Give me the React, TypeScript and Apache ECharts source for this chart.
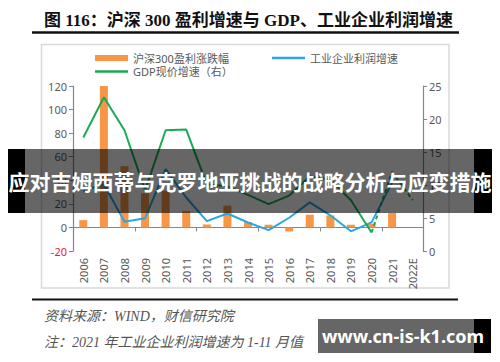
import React, { useEffect, useRef } from "react";
import * as echarts from "echarts";

const categories = ["2006", "2007", "2008", "2009", "2010", "2011", "2012", "2013", "2014", "2015", "2016", "2017", "2018", "2019", "2020", "2021", "2022E"];
const csi300EarningsGrowth = [6.2, 120, 52, 29, 31, 14, 2.5, 18.5, 4.5, 2.3, -3.4, 10.8, 10.2, 2.3, 3.1, 12.2, null];
const industrialProfitGrowth = [31, 36.7, 4.9, 7.8, 49.4, 25.4, 5.3, 11.8, 4.2, -2.3, 8.2, 21.3, 10.3, -3.3, 4.3, 38, null];
const gdpNominalGrowth = [17.2, 23.3, 18.3, 9.2, 18.3, 18.4, 10.1, 9.8, 8.5, 7.1, 8.4, 11.3, 10.8, 7.7, 2.8, 12.0, 7.7];
const dashedFrom = "2020";

const seriesNames = ["沪深300盈利涨跌幅", "工业企业利润增速", "GDP现价增速（右）"];
const titleText = "图 116：沪深 300 盈利增速与 GDP、工业企业利润增速";
const sourceText = "资料来源：WIND，财信研究院";
const noteText = "注：2021 年工业企业利润增速为 1-11 月值";
const bannerText = "应对吉姆西蒂与克罗地亚挑战的战略分析与应变措施";
const watermarkText = "www.cn-is-k1.com";

const ORANGE = "#F79646";
const BLUE = "#29A8E0";
const GREEN = "#1AAA55";
const AXIS = "#868686";
const LABEL = "#595959";
const FONT = "'Noto Sans', 'Noto Sans CJK SC', sans-serif";

export default function App() {
  const ref = useRef<HTMLDivElement>(null);
  useEffect(() => {
    if (!ref.current) return;
    const chart = echarts.init(ref.current, null, { renderer: "svg" });
    const cut = categories.indexOf(dashedFrom);
    const gdpSolid = gdpNominalGrowth.map((v, i) => (i <= cut ? v : null));
    const gdpDashed = gdpNominalGrowth.map((v, i) => (i >= cut ? v : null));
    const txt = (o: any) => ({ type: "text", ...o });
    const legendText = { color: LABEL, fontSize: 11, fontFamily: FONT };
    chart.setOption({
      animation: false,
      backgroundColor: "#ffffff",
      textStyle: { fontFamily: FONT },
      grid: { left: 73, right: 77, top: 86, bottom: 111, containLabel: false },
      legend: [
        { data: [seriesNames[0]], left: 95, top: 52.5, padding: 0, itemWidth: 33, itemHeight: 6, icon: "rect", textStyle: legendText },
        { data: [seriesNames[1]], left: 272, top: 52.5, padding: 0, itemWidth: 33, itemHeight: 2.5, icon: "rect", itemStyle: { color: BLUE }, textStyle: legendText },
        { data: [seriesNames[2]], left: 95, top: 66, padding: 0, itemWidth: 33, itemHeight: 2.5, icon: "rect", itemStyle: { color: GREEN }, textStyle: legendText },
      ],
      xAxis: [
        {
          type: "category",
          data: categories,
          position: "bottom",
          axisLine: { show: true, onZero: true, onZeroAxisIndex: 0, lineStyle: { color: AXIS, width: 1.2 } },
          axisTick: { show: true, length: 4, lineStyle: { color: AXIS } },
          axisLabel: { show: false },
          splitLine: { show: false },
        },
        {
          type: "category",
          data: categories,
          position: "bottom",
          axisLine: { show: false, onZero: false },
          axisTick: { show: false },
          axisLabel: { show: true, rotate: 90, margin: 7, fontSize: 11, color: LABEL, fontFamily: FONT },
          splitLine: { show: false },
        },
      ],
      yAxis: [
        {
          type: "value",
          position: "left",
          min: -20,
          max: 120,
          interval: 20,
          axisLine: { show: true, lineStyle: { color: AXIS, width: 1.2 } },
          axisTick: { show: true, length: 4, lineStyle: { color: AXIS } },
          axisLabel: { fontSize: 11, margin: 6, color: (v: any) => (Number(v) < 0 ? "#E8232A" : LABEL) },
          splitLine: { show: false },
        },
        {
          type: "value",
          position: "right",
          min: 0,
          max: 25,
          interval: 5,
          axisLine: { show: true, lineStyle: { color: AXIS, width: 1.2 } },
          axisTick: { show: true, length: 4, lineStyle: { color: AXIS } },
          axisLabel: { fontSize: 11, margin: 6, color: LABEL },
          splitLine: { show: false },
        },
      ],
      series: [
        { name: seriesNames[0], type: "bar", xAxisIndex: 0, yAxisIndex: 0, data: csi300EarningsGrowth, barWidth: 8, itemStyle: { color: ORANGE }, z: 2 },
        { name: seriesNames[1], type: "line", xAxisIndex: 0, yAxisIndex: 0, data: industrialProfitGrowth, symbol: "none", lineStyle: { color: BLUE, width: 2 }, itemStyle: { color: BLUE }, z: 3 },
        { name: seriesNames[2], type: "line", xAxisIndex: 0, yAxisIndex: 1, data: gdpSolid, symbol: "none", lineStyle: { color: GREEN, width: 2 }, itemStyle: { color: GREEN }, z: 4 },
        { name: seriesNames[2], type: "line", xAxisIndex: 0, yAxisIndex: 1, data: gdpDashed, symbol: "none", lineStyle: { color: GREEN, width: 2, type: [4, 3] }, itemStyle: { color: GREEN }, z: 4 },
      ],
      graphic: [
        txt({ x: 44, y: 20, z: 10, style: { text: titleText, font: "bold 17px 'Liberation Serif', 'Noto Sans CJK SC', serif", fill: "#111111", textAlign: "left", textVerticalAlign: "middle", align: "left", verticalAlign: "middle" } }),
        { type: "line", z: 10, shape: { x1: 32, y1: 32.5, x2: 459, y2: 32.5 }, style: { stroke: "#111111", lineWidth: 2.5 } },
        { type: "rect", z: -1, shape: { x: 41.5, y: 44.5, width: 407.5, height: 243.5 }, style: { fill: "none", stroke: "#D9D9D9", lineWidth: 1.5 } },
        { type: "line", z: 10, shape: { x1: 32, y1: 299.5, x2: 458, y2: 299.5 }, style: { stroke: "#111111", lineWidth: 2 } },
        txt({ x: 44, y: 316, z: 10, style: { text: sourceText, font: "italic 14px 'Liberation Serif', 'Noto Sans CJK SC', serif", fill: "#555555", textAlign: "left", textVerticalAlign: "middle", align: "left", verticalAlign: "middle" } }),
        txt({ x: 44, y: 342, z: 10, style: { text: noteText, font: "italic 14px 'Liberation Serif', 'Noto Sans CJK SC', serif", fill: "#555555", textAlign: "left", textVerticalAlign: "middle", align: "left", verticalAlign: "middle" } }),
        { type: "rect", z: 100, shape: { x: 25, y: 149, width: 449, height: 64 }, style: { fill: "rgba(0,0,0,0.6)" } },
        { type: "rect", z: 100, shape: { x: 8, y: 149, width: 17, height: 64 }, style: { fill: "#000000" } },
        { type: "rect", z: 100, shape: { x: 474, y: 149, width: 18, height: 64 }, style: { fill: "#000000" } },
        txt({ x: 250, y: 181, z: 101, style: { text: bannerText, font: "bold 21px 'Noto Sans CJK SC', sans-serif", fill: "#ffffff", textAlign: "center", textVerticalAlign: "middle", align: "center", verticalAlign: "middle" } }),
        { type: "rect", z: 100, shape: { x: 318, y: 319, width: 156, height: 34 }, style: { fill: "rgba(0,0,0,0.6)" } },
        { type: "rect", z: 100, shape: { x: 474, y: 319, width: 17, height: 34 }, style: { fill: "#000000" } },
        txt({ x: 403, y: 336, z: 101, style: { text: watermarkText, font: "bold 18px 'Noto Sans', sans-serif", fill: "#ffffff", textAlign: "center", textVerticalAlign: "middle", align: "center", verticalAlign: "middle" } }),
      ],
    });
    return () => chart.dispose();
  }, []);
  return <div ref={ref} style={{ position: "fixed", left: 0, top: 0, width: 500, height: 362, background: "#fff" }} />;
}
